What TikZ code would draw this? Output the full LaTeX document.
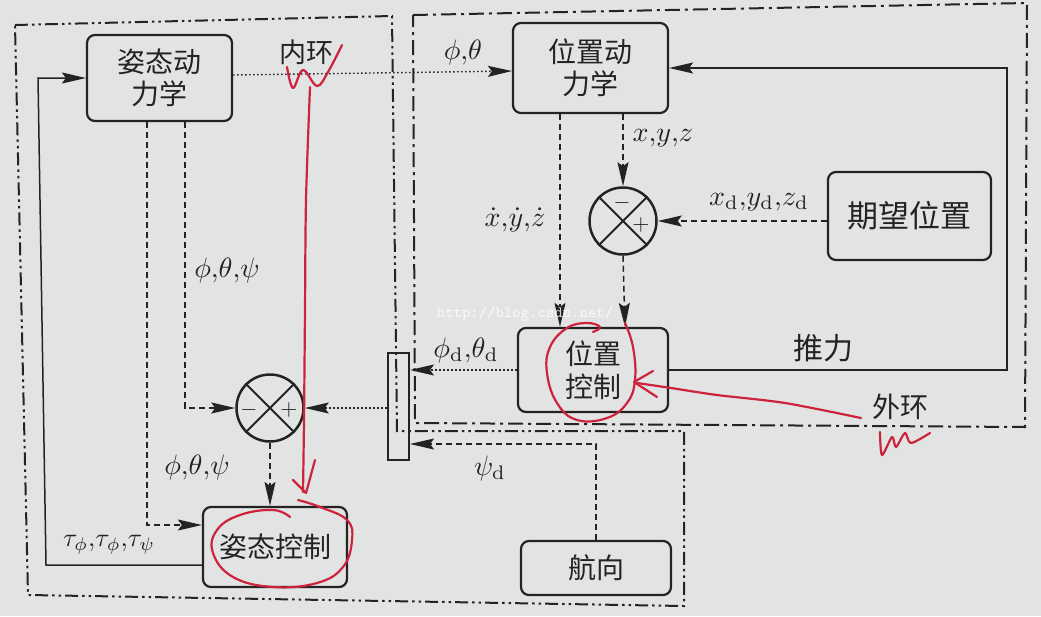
\documentclass[tikz,border=0pt]{standalone}
\usepackage{fontspec}
\newfontfamily\cjk{Noto Sans CJK SC}
\usetikzlibrary{arrows.meta}
\definecolor{inkc}{RGB}{35,35,35}
\definecolor{bgc}{RGB}{226,228,227}
\definecolor{redc}{RGB}{205,35,60}
\tikzset{
  blk/.style={draw=inkc, line width=2.2pt, rounded corners=8pt, text=inkc, align=center, inner sep=0pt,
     font=\cjk\fontsize{28}{32}\selectfont},
  sumc/.style={circle, draw=inkc, line width=2.5pt, minimum size=67pt, inner sep=0pt},
  pm/.style={text=inkc, font=\normalsize, scale=2.2, inner sep=0pt},
  lab/.style={text=inkc, font=\normalsize, scale=2.8, inner sep=0pt},
  cjklab/.style={text=inkc, font=\cjk\fontsize{29}{32}\selectfont, inner sep=0pt},
  arr/.style={-{Stealth[length=24pt,width=11pt,inset=4pt]}},
  solidc/.style={draw=inkc, line width=1.5pt, arr},
  dotc/.style={draw=inkc, line width=1.4pt, dash pattern=on 1.6pt off 2.4pt, arr},
  dashc/.style={draw=inkc, line width=1.5pt, dash pattern=on 6pt off 4pt, arr},
  ddd/.style={draw=inkc, line width=2pt, dash pattern=on 13pt off 4pt on 2.5pt off 4pt on 2.5pt off 4pt},
  dd/.style={draw=inkc, line width=2pt, dash pattern=on 15pt off 5pt on 3pt off 5pt},
  redl/.style={draw=redc, line width=2.2pt, line cap=round, line join=round}
}
\begin{document}
\begin{tikzpicture}[x=1pt,y=-1pt]
\useasboundingbox (0,0) rectangle (1041,616);
\fill[bgc] (0,0) rectangle (1041,616);

% loop boundaries
\draw[ddd] (15,25) -- (392,16) -- (397,431) -- (684,431) -- (684,606) -- (28,595) -- cycle;
\draw[dd] (413,15) -- (1027,3) -- (1025,427) -- (415,423) -- cycle;

% blocks
\node[blk, minimum width=145pt, minimum height=86pt] (ad) at (159.5,78) {姿态动\\力学};
\node[blk, minimum width=155pt, minimum height=90pt] (pd) at (590.5,68) {位置动\\力学};
\node[blk, minimum width=163pt, minimum height=88pt, font=\cjk\fontsize{31}{34}\selectfont] (qw) at (909.5,216) {期望位置};
\node[blk, minimum width=150pt, minimum height=84pt, font=\cjk\fontsize{28}{33}\selectfont] (pc) at (593,370) {位置\\控制};
\node[blk, minimum width=144pt, minimum height=80pt] (ac) at (275,547) {姿态控制};
\node[blk, minimum width=150pt, minimum height=54pt] (hx) at (596,568) {航向};
\node[draw=inkc, line width=2pt, minimum width=21pt, minimum height=107pt, inner sep=0pt] (sw) at (398.5,406.5) {};

% summing junctions
\node[sumc] (s1) at (623,221) {};
\draw[inkc, line width=2pt] (s1.north west) -- (s1.south east) (s1.north east) -- (s1.south west);
\node[pm] (s1m) at (622,203) {$-$};
\node[pm] (s1p) at (641,225) {$+$};
\node[sumc] (s2) at (270,408) {};
\draw[inkc, line width=2pt] (s2.north west) -- (s2.south east) (s2.north east) -- (s2.south west);
\node[pm] (s2m) at (249,410) {$-$};
\node[pm] (s2p) at (289,410) {$+$};

% helper coordinates
\coordinate (c1) at (560,0);
\coordinate (c2) at (0,444);
\coordinate (c3) at (185,0);
\coordinate (c4) at (147,525);
\coordinate (c5) at (0,565);
\coordinate (c6) at (1007,68);

% connectors
\draw[dotc] ([yshift=3pt]ad.east) -- ([yshift=-3pt]pd.west);
\draw[solidc] (pc.east) -| (c6) -- (pd.east);
\draw[dashc] (c1 |- pd.south) -- (c1 |- pc.north);
\draw[dashc] (s1 |- pd.south) -- (s1.north);
\draw[dashc] (s1.south) -- ([xshift=2pt]s1 |- pc.north);
\draw[dashc] (s1 -| qw.west) -- (s1.east);
\draw[dotc] (pc.west) -- (pc.west -| sw.east);
\draw[dotc] (sw.west |- s2) -- (s2.east);
\draw[dashc] (hx.north) |- (sw.east |- c2);
\draw[dashc] (c3 |- ad.south) |- (s2.west);
\draw[dashc] (c4 |- ad.south) -- (c4) -- (ac.west |- c4);
\draw[dashc] (s2.south) -- (s2 |- ac.north);
\draw[solidc] (ac.west |- c5) -- (46,565) -- (38,78) -- (ad.west);

% labels
\node[cjklab, font=\cjk\fontsize{27}{30}\selectfont] (ln) at (306,52) {内环};
\node[lab] (l1) at (463,52) {$\phi{,}\theta$};
\node[lab] (l2) at (663,138) {$x{,}y{,}z$};
\node[lab] (l3) at (515,220) {$\dot{x}{,}\dot{y}{,}\dot{z}$};
\node[lab] (l4) at (759,202) {$x_{\mathrm{d}}{,}y_{\mathrm{d}}{,}z_{\mathrm{d}}$};
\node[lab] (l5) at (227,270) {$\phi{,}\theta{,}\psi$};
\node[lab] (l6) at (466,350) {$\phi_{\mathrm{d}}{,}\theta_{\mathrm{d}}$};
\node[cjklab, font=\cjk\fontsize{30}{32}\selectfont] (l7) at (823,348) {推力};
\node[cjklab, font=\cjk\fontsize{28}{30}\selectfont] (lw) at (900,407) {外环};
\node[lab] (l8) at (490,468) {$\psi_{\mathrm{d}}$};
\node[lab] (l9) at (197,467) {$\phi{,}\theta{,}\psi$};
\node[lab, scale=0.93] (l10) at (109,545) {$\tau_{\phi}{,}\tau_{\phi}{,}\tau_{\psi}$};
\node[text=white, opacity=0.8, font=\ttfamily, scale=1.6, inner sep=0pt] (wm) at (525,314) {http://blog.csdn.net/};

% red annotations
\draw[redl] plot[smooth, tension=0.6] coordinates {(287,67) (293,88) (303,70) (317,86) (328,72) (342,45)};
\draw[redl] plot[smooth] coordinates {(310,87) (306,200) (305,310) (304,420) (303,492)};
\draw[redl] (293,480) -- (306,493) -- (315,460);
\draw[redl] plot[smooth, tension=0.7] coordinates {(298,500) (320,507) (347,520) (352,540) (343,567) (317,583) (273,587) (233,577) (213,553) (217,530) (240,515) (273,510) (290,517)};
\draw[redl] plot[smooth, tension=0.7] coordinates {(625,323) (633,347) (635,380) (627,403) (607,418) (577,420) (557,403) (547,373) (550,347) (567,328) (587,323) (600,327) (593,332)};
\draw[redl] plot[smooth] coordinates {(861,418) (785,403) (717,395) (671,388) (637,383)};
\draw[redl] (653,371) -- (634,382) -- (657,397);
\draw[redl] plot[smooth, tension=0.5] coordinates {(880,432) (882,455) (892,437) (896,447) (905,433) (911,443) (930,433)};
\end{tikzpicture}
\end{document}
